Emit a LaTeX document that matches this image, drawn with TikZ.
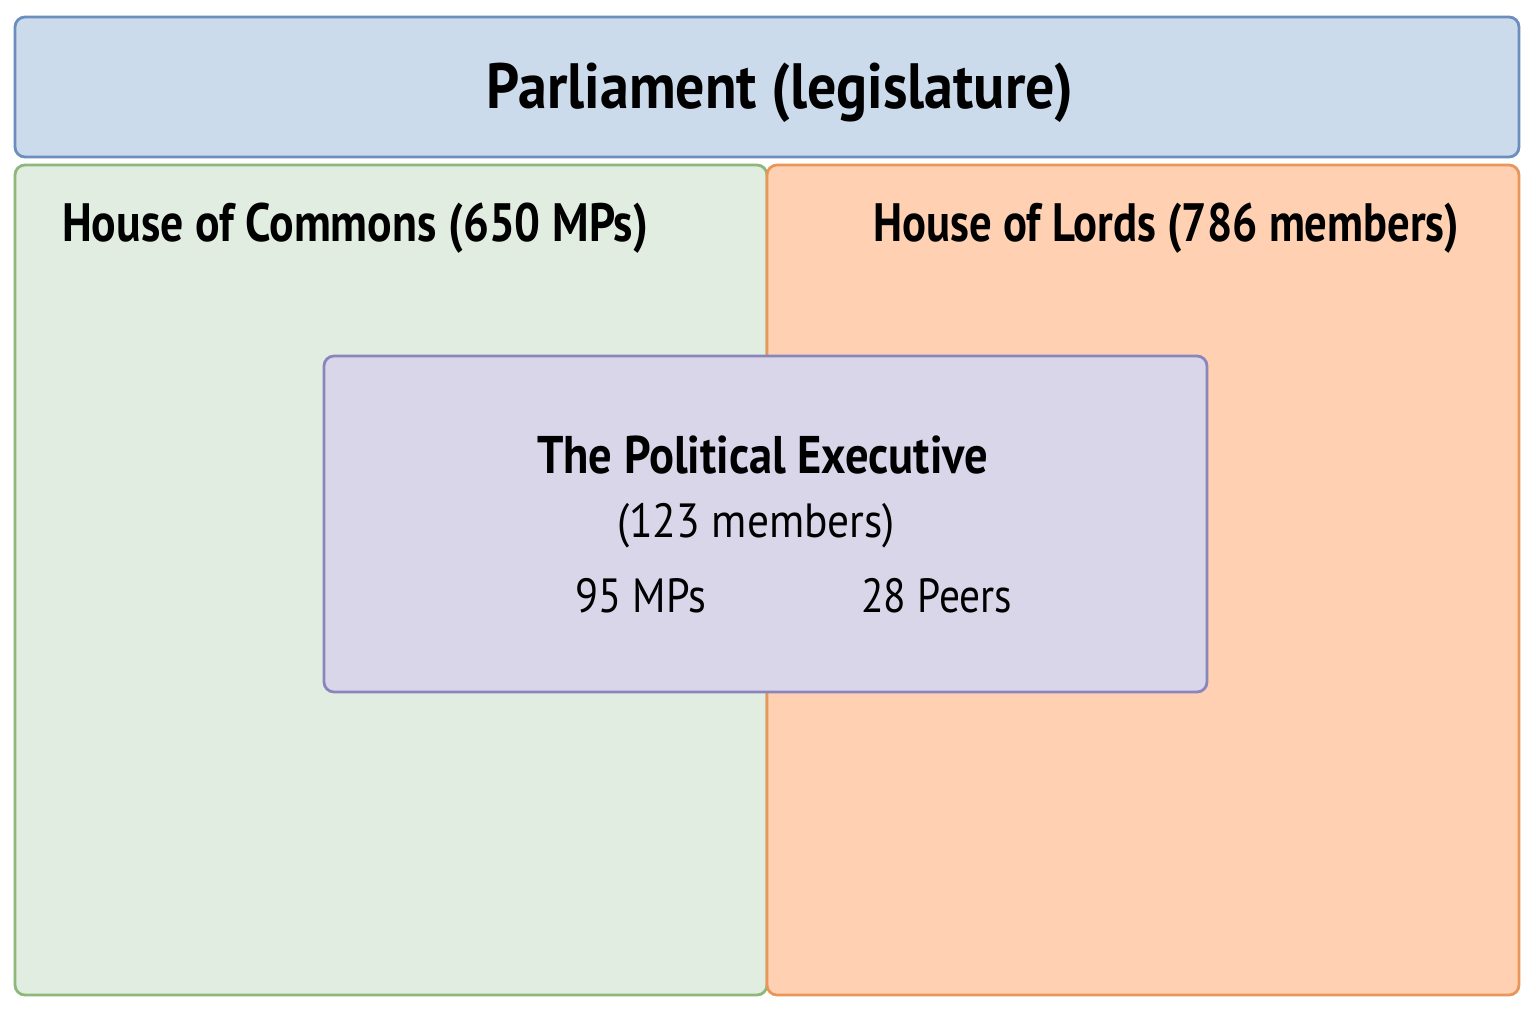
\documentclass[tikz,border=0pt]{standalone}
\usepackage{fontspec}
\setmainfont{PT Sans}
\usepackage{graphicx}
\definecolor{bluefill}{HTML}{CCDBEC}
\definecolor{bluedraw}{HTML}{6C8EBF}
\definecolor{greenfill}{HTML}{E2EDE1}
\definecolor{greendraw}{HTML}{8DB87A}
\definecolor{orangefill}{HTML}{FFD1B2}
\definecolor{orangedraw}{HTML}{E9965A}
\definecolor{purplefill}{HTML}{DAD6EA}
\definecolor{purpledraw}{HTML}{8A86BD}
\newcommand{\fitw}[3]{\resizebox{#1}{\height}{\fontsize{#2}{#2}\selectfont #3}}
\begin{document}
\begin{tikzpicture}[x=1pt,y=-1pt,
  panel/.style={rounded corners=10pt,line width=2.8pt},
  lbl/.style={inner sep=0pt,text=black}]
\useasboundingbox (0,0) rectangle (1536,1013);
\fill[white] (0,0) rectangle (1536,1013);
\draw[panel,fill=bluefill,draw=bluedraw] (15,17) rectangle (1519,157);
\draw[panel,fill=greenfill,draw=greendraw] (15,165) rectangle (767,995);
\draw[panel,fill=orangefill,draw=orangedraw] (767,165) rectangle (1519,995);
\draw[panel,fill=purplefill,draw=purpledraw] (324,356) rectangle (1207,692);
\node[lbl,anchor=base] (title) at (780,108) {\fitw{586pt}{64pt}{\bfseries Parliament (legislature)}};
\node[lbl,anchor=base west] (commons) at (62,241) {\fitw{586pt}{54pt}{\bfseries House of Commons (650 MPs)}};
\node[lbl,anchor=base west] (lords) at (873,241) {\fitw{586pt}{54pt}{\bfseries House of Lords (786 members)}};
\node[lbl,anchor=base] (exec) at (762.5,473) {\fitw{451pt}{53pt}{\bfseries The Political Executive}};
\node[lbl,anchor=base] (count) at (756,537) {\fitw{278pt}{48pt}{(123 members)}};
\node[lbl,anchor=base west] (mps) at (575,612) {\fitw{131pt}{48pt}{95 MPs}};
\node[lbl,anchor=base west] (peers) at (861,612) {\fitw{151pt}{48pt}{28 Peers}};
\end{tikzpicture}
\end{document}
